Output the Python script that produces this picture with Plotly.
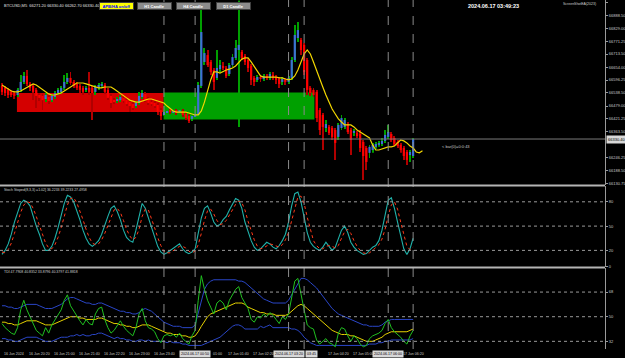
import plotly.graph_objects as go

# ---------------- data ----------------
bars = list(range(133))
open_ = [66570,66561,66552,66543,66538,66529,66552,66588,66615,66579,
         66570,66552,66529,66525,66511,66520,66506,66520,66538,66543,
         66561,66588,66606,66588,66579,66570,66561,66552,66561,66561,
         66543,66561,66570,66574,66552,66525,66506,66502,66506,66516,
         66506,66497,66488,66479,66493,66520,66534,66511,66497,66493,
         66484,66461,66443,66452,66457,66452,66457,66452,66457,66443,
         66434,66421,66430,66439,66570,66678,66709,66678,66642,66606,
         66646,66660,66651,66624,66664,66696,66732,66723,66705,66687,
         66660,66606,66597,66606,66601,66615,66606,66619,66610,66601,
         66588,66597,66588,66606,66687,66786,66777,66755,66687,66561,
         66552,66543,66461,66439,66380,66385,66380,66371,66340,66380,
         66385,66398,66371,66358,66358,66353,66317,66290,66268,66281,
         66295,66304,66308,66322,66340,66353,66335,66317,66304,66290,
         66272,66258,66254]
close = [66543,66538,66529,66529,66525,66552,66588,66615,66579,66561,
         66543,66525,66516,66506,66529,66502,66525,66538,66552,66561,
         66588,66606,66583,66570,66561,66552,66543,66561,66543,66538,
         66565,66574,66579,66543,66516,66493,66497,66511,66520,66502,
         66488,66479,66470,66493,66525,66538,66506,66493,66488,66479,
         66452,66434,66452,66457,66452,66457,66448,66461,66439,66425,
         66412,66434,66443,66574,66813,66718,66664,66633,66588,66651,
         66664,66651,66615,66664,66700,66741,66755,66696,66678,66651,
         66597,66588,66610,66601,66615,66606,66624,66610,66597,66579,
         66601,66588,66606,66687,66800,66822,66732,66633,66552,66538,
         66529,66425,66371,66385,66398,66358,66340,66313,66394,66425,
         66416,66362,66326,66367,66344,66290,66254,66227,66295,66304,
         66308,66313,66322,66349,66362,66326,66308,66299,66281,66254,
         66236,66272,66330.4]
high = [66583,66570,66561,66552,66547,66561,66619,66633,66642,66588,
        66579,66561,66538,66534,66538,66529,66534,66547,66561,66570,
        66619,66628,66633,66597,66588,66579,66570,66570,66633,66570,
        66574,66583,66588,66583,66561,66534,66516,66520,66529,66525,
        66516,66506,66497,66502,66543,66552,66543,66520,66506,66502,
        66493,66470,66461,66466,66466,66466,66466,66470,66466,66452,
        66443,66443,66452,66588,66921,66741,66732,66687,66651,66732,
        66687,66678,66660,66673,66714,66777,66955,66732,66714,66696,
        66669,66615,66619,66619,66624,66624,66633,66633,66619,66610,
        66610,66606,66615,66700,66845,66858,66786,66764,66696,66570,
        66561,66552,66470,66448,66416,66394,66389,66380,66403,66439,
        66425,66407,66380,66376,66367,66371,66326,66299,66304,66313,
        66317,66322,66335,66371,66394,66362,66344,66326,66313,66299,
        66281,66281,66335]
low = [66529,66525,66516,66520,66511,66520,66543,66579,66570,66547,
       66506,66470,66502,66461,66497,66488,66497,66511,66529,66534,
       66552,66579,66574,66561,66552,66538,66529,66543,66529,66416,
       66529,66552,66561,66534,66506,66470,66488,66493,66497,66493,
       66479,66452,66461,66470,66484,66511,66497,66484,66479,66470,
       66439,66416,66434,66443,66443,66448,66439,66443,66430,66416,
       66403,66412,66421,66430,66561,66664,66655,66619,66552,66597,
       66633,66642,66606,66615,66655,66687,66385,66687,66664,66633,
       66574,66570,66588,66588,66592,66597,66597,66597,66579,66561,
       66574,66574,66579,66597,66678,66768,66709,66619,66529,66525,
       66520,66407,66349,66281,66362,66349,66326,66236,66326,66371,
       66376,66353,66258,66344,66335,66272,66146,66191,66245,66268,
       66286,66295,66299,66313,66331,66317,66299,66290,66268,66236,
       66213,66227,66245]
ma_bars = list(range(136))
ma_line = [66574,66565,66556,66547,66543,66543,66547,66556,66565,66574,
           66579,66574,66565,66556,66543,66534,66529,66529,66534,66538,
           66547,66556,66565,66574,66583,66583,66583,66579,66574,66570,
           66565,66561,66561,66565,66565,66565,66556,66547,66538,66529,
           66516,66506,66502,66497,66497,66502,66506,66511,66511,66506,
           66502,66497,66493,66479,66466,66457,66452,66452,66452,66452,
           66448,66443,66439,66439,66457,66497,66552,66597,66633,66633,
           66628,66637,66642,66646,66651,66660,66678,66691,66696,66696,
           66678,66655,66633,66615,66610,66610,66610,66610,66610,66606,
           66606,66601,66597,66601,66615,66642,66678,66714,66732,66714,
           66678,66637,66597,66565,66529,66497,66466,66443,66421,66407,
           66394,66394,66394,66385,66371,66362,66353,66344,66335,66304,
           66281,66281,66286,66290,66295,66295,66299,66313,66326,66322,
           66313,66299,66290,66272,66268,66277]
last_price = 66330.40

# boxes (previous-period ranges)
box_start = [4.8, 51.9]
box_end = [51.9, 100.3]
box_top = [66538, 66540]
box_bottom = [66452, 66419]
box_colors = ["#d40000", "#00a000"]

vlines = [52, 62, 92, 97, 124, 132]

price_ticks = [66946.25, 66888.50, 66829.00, 66771.25, 66713.50, 66654.00,
               66596.25, 66538.50, 66479.00, 66421.25, 66363.50, 66246.25,
               66188.50, 66130.75]

stoch = [15,20,28,40,55,68,78,82,80,75,
         62,50,40,28,20,20,25,35,48,62,
         78,88,86,80,70,58,45,35,28,25,
         28,32,40,52,62,72,75,68,58,45,
         36,32,30,45,62,78,72,60,48,35,
         25,18,15,17,20,22,26,28,22,18,
         16,18,22,40,60,72,75,66,55,50,
         52,58,62,70,78,84,82,72,55,42,
         32,24,20,22,26,30,28,24,22,26,
         32,40,55,75,90,92,80,62,42,30,
         25,22,20,24,30,25,20,24,35,45,
         50,42,30,24,20,17,15,16,20,24,
         26,32,45,62,82,85,72,55,38,22,
         15,22,35]
stoch_signal = [18,17,21,29,41,54,67,76,80,79,
                72,62,51,39,29,23,22,27,36,48,
                63,76,84,85,79,69,58,46,36,29,
                27,28,33,41,51,62,70,72,67,57,
                46,38,33,36,46,62,71,70,60,48,
                36,26,19,17,17,20,23,25,25,23,
                19,17,19,27,41,57,69,71,65,57,
                52,53,57,63,70,77,81,79,70,56,
                43,33,25,22,23,26,28,27,25,24,
                27,33,42,57,73,86,87,78,61,45,
                32,26,22,22,25,26,25,23,26,35,
                43,46,41,32,25,20,17,16,17,20,
                23,27,34,46,63,76,80,71,55,38,
                25,21,24]
stoch_levels = [80, 50, 20]

tdi_rsi = [45,42,40,38,37,42,55,62,55,50,
           45,40,38,36,42,38,44,48,52,55,
           62,66,58,54,50,47,44,48,45,44,
           52,56,57,48,42,38,40,44,47,43,
           40,38,36,42,52,56,47,42,41,39,
           34,31,36,37,36,37,35,38,34,32,
           30,36,40,62,80,70,62,57,52,60,
           62,60,55,62,66,70,72,64,60,56,
           48,46,50,49,52,50,53,51,48,45,
           50,48,52,65,76,78,65,55,44,42,
           41,33,30,32,34,31,30,28,38,42,
           41,36,32,36,34,30,28,29,34,36,
           37,38,40,45,48,42,39,37,35,32,
           30,36,40]
tdi_base = [46,46,45,45,44,44,45,46,47,47,
            47,47,46,45,44,44,44,45,46,47,
            48,49,50,50,50,49,49,48,48,48,
            48,49,49,48,47,46,45,45,44,44,
            43,43,42,42,43,44,44,44,43,42,
            41,40,39,38,38,37,37,37,36,36,
            35,35,36,39,43,47,50,52,53,54,
            55,56,57,58,59,60,60,60,59,57,
            56,55,54,53,53,52,52,52,51,51,
            51,51,52,54,56,58,59,58,56,54,
            52,50,48,46,44,42,40,39,38,37,
            37,37,36,36,35,34,33,32,32,32,
            33,34,35,37,38,39,39,39,39,39,
            39,40,41]
tdi_upper = [58,58,57,57,56,56,57,58,59,59,
             59,59,58,57,56,56,56,57,58,59,
             61,63,64,64,63,62,61,60,60,59,
             59,60,60,59,58,57,56,55,54,54,
             53,53,52,52,53,55,56,55,54,52,
             50,48,46,45,44,43,43,43,42,42,
             42,42,44,52,62,70,74,76,77,77,
             77,77,77,77,77,77,76,76,75,73,
             71,69,67,65,63,62,61,60,60,60,
             60,60,62,66,71,75,78,78,77,75,
             73,71,68,65,62,59,56,54,52,51,
             50,49,48,47,46,45,44,44,43,43,
             43,43,44,46,47,48,48,48,48,48,
             48,48,48]
tdi_lower = [34,34,33,33,32,32,33,34,35,35,
             35,35,34,33,32,32,32,33,34,35,
             35,35,36,36,37,36,37,36,36,37,
             37,38,38,37,36,35,34,35,34,34,
             33,33,32,32,33,33,32,33,32,32,
             32,32,32,31,32,31,31,31,30,30,
             29,29,29,29,29,30,31,32,33,34,
             35,37,39,41,43,44,44,43,41,41,
             41,41,41,43,42,43,44,42,42,42,
             42,42,42,41,41,40,38,35,33,31,
             30,29,29,29,29,29,29,29,29,29,
             29,29,29,29,29,29,29,29,30,30,
             30,31,31,32,32,33,33,33,33,33,
             33,33,34]
tdi_levels = [68, 50, 32]

time_label_bars = [0, 8, 16, 24, 32, 40, 48, 72, 80, 104, 112, 128]
time_label_text = ["16 Jun 2024", "16 Jun 20:20", "16 Jun 21:00", "16 Jun 21:40",
                   "16 Jun 22:20", "16 Jun 23:00", "16 Jun 23:40",
                   "17 Jun 01:40", "17 Jun 02:20",
                   "17 Jun 04:20", "17 Jun 05:00", "17 Jun 06:20"]
partial_label_bar = [67.2]
partial_label_text = ["01:00"]
vline_label_bars = [62, 92, 124]
vline_label_text = ["2024.06.17 00:50", "2024.06.17 03:20", "2024.06.17 06:00"]
side_label_bar = [97.3]
side_label_text = ["03:45"]

# ---------------- figure ----------------
BLUE = "#3d6fd6"
RED = "#ff0000"
GRID = "#8a8a8a"
TXT = "#c8c8c8"
FONT = "Liberation Sans"

fig = go.Figure()

fig.add_trace(go.Bar(
    x=bars, y=[h - l for h, l in zip(high, low)], base=low, width=0.3,
    marker=dict(color=["#00a000" if c >= o else "#b00000" for o, c in zip(open_, close)],
                line=dict(width=0)),
    xaxis="x", yaxis="y", hoverinfo="skip", showlegend=False))
fig.add_trace(go.Bar(
    x=bars, y=[c - o for o, c in zip(open_, close)], base=open_, width=0.7,
    marker=dict(color=[BLUE if c >= o else RED for o, c in zip(open_, close)], line=dict(width=0)),
    xaxis="x", yaxis="y", hoverinfo="skip", showlegend=False))

fig.add_trace(go.Scatter(x=ma_bars, y=ma_line, mode="lines",
                         line=dict(color="#f2d600", width=1.2),
                         xaxis="x", yaxis="y", hoverinfo="skip", showlegend=False))

fig.add_trace(go.Scatter(x=bars, y=stoch, mode="lines",
                         line=dict(color="#20b2aa", width=1.1),
                         xaxis="x2", yaxis="y2", hoverinfo="skip", showlegend=False))
fig.add_trace(go.Scatter(x=bars, y=stoch_signal, mode="lines",
                         line=dict(color="#ff3a1a", width=1, dash="dot"),
                         xaxis="x2", yaxis="y2", hoverinfo="skip", showlegend=False))

for series, col, w in [(tdi_upper, "#2a46c8", 1), (tdi_lower, "#2a46c8", 1),
                       (tdi_base, "#e6d200", 1), (tdi_rsi, "#20c020", 1)]:
    fig.add_trace(go.Scatter(x=bars, y=series, mode="lines",
                             line=dict(color=col, width=w),
                             xaxis="x3", yaxis="y3", hoverinfo="skip", showlegend=False))

shapes = []
for x0, x1, t, b, c in zip(box_start, box_end, box_top, box_bottom, box_colors):
    shapes.append(dict(type="rect", xref="x", yref="y", x0=x0, x1=x1, y0=b, y1=t,
                       fillcolor=c, line=dict(width=0), layer="below"))
shapes.append(dict(type="line", xref="paper", yref="y", x0=0, x1=1, y0=last_price, y1=last_price,
                   line=dict(color="#7a7a7a", width=1)))
for v in vlines:
    shapes.append(dict(type="line", xref="x", yref="paper", x0=v, x1=v, y0=0, y1=1,
                       line=dict(color=GRID, width=1, dash="dash")))
for lv in stoch_levels:
    shapes.append(dict(type="line", xref="paper", yref="y2", x0=0, x1=1, y0=lv, y1=lv,
                       line=dict(color="#9a9a9a", width=1, dash="dot")))
for lv in tdi_levels:
    shapes.append(dict(type="line", xref="paper", yref="y3", x0=0, x1=1, y0=lv, y1=lv,
                       line=dict(color="#9a9a9a", width=1, dash="dot")))
for yp in [0.4685, 0.2335]:
    shapes.append(dict(type="line", xref="paper", yref="paper", x0=0, x1=1, y0=yp, y1=yp,
                       line=dict(color="#b4b4b4", width=2)))

annotations = []
for b, t in zip(time_label_bars + partial_label_bar, time_label_text + partial_label_text):
    annotations.append(dict(x=b, y=-0.013, xref="x", yref="paper", text=t, showarrow=False,
                            xanchor="left", yanchor="middle",
                            font=dict(family=FONT, size=3.6, color=TXT)))
for b, t in zip(vline_label_bars, vline_label_text):
    annotations.append(dict(x=b, y=-0.013, xref="x", yref="paper", text=t, showarrow=False,
                            xanchor="center", yanchor="middle", bgcolor="#d8d8d8",
                            font=dict(family=FONT, size=3.6, color="#000000")))
for b, t in zip(side_label_bar, side_label_text):
    annotations.append(dict(x=b, y=-0.013, xref="x", yref="paper", text=t, showarrow=False,
                            xanchor="left", yanchor="middle", bgcolor="#d8d8d8",
                            font=dict(family=FONT, size=3.6, color="#000000")))
annotations.append(dict(x=1.002, y=last_price, xref="paper", yref="y", text="66330.40",
                        showarrow=False, xanchor="left", yanchor="middle", bgcolor="#d8d8d8",
                        font=dict(family=FONT, size=4, color="#000000")))
annotations.append(dict(x=0.004, y=0.997, xref="paper", yref="paper",
                        text="BTCUSD,M5  66271.20 66330.40 66262.70 66330.40",
                        showarrow=False, xanchor="left", yanchor="top",
                        font=dict(family=FONT, size=4, color="#e0e0e0")))
annotations.append(dict(x=116.5 / 605.5, y=1 - 6.3 / 349, xref="paper", yref="paper",
                        text="<b>APB/HA on/off</b>", showarrow=False, xanchor="center",
                        yanchor="middle", bgcolor="#ffff00", bordercolor="#404040",
                        borderwidth=1, borderpad=0.5, width=32, height=5,
                        font=dict(family=FONT, size=4, color="#0000ff")))
for cx, t in [(155, "H1 Candle"), (194, "H4 Candle"), (233.4, "D1 Candle")]:
    annotations.append(dict(x=cx / 605.5, y=1 - 6 / 349, xref="paper", yref="paper",
                            text="<b>" + t + "</b>", showarrow=False, xanchor="center",
                            yanchor="middle", bgcolor="#8c8c8c", bordercolor="#404040",
                            borderwidth=1, borderpad=0.5, width=32, height=5,
                            font=dict(family=FONT, size=4, color="#ffffff")))
annotations.append(dict(x=494 / 605.5, y=1 - 6 / 349, xref="paper", yref="paper",
                        text="<b>2024.06.17 03:49:23</b>", showarrow=False, xanchor="center",
                        yanchor="middle", font=dict(family=FONT, size=5.5, color="#ffffff")))
annotations.append(dict(x=598 / 605.5, y=1 - 4 / 349, xref="paper", yref="paper",
                        text="ScreenShotEA(2023)", showarrow=False, xanchor="right",
                        yanchor="middle", font=dict(family=FONT, size=3.5, color="#d0d0d0")))
annotations.append(dict(x=140.5, y=66295, xref="x", yref="y", text="&lt; bar(0)=0:0:43",
                        showarrow=False, xanchor="left", yanchor="middle",
                        font=dict(family=FONT, size=4, color="#c8c8c8")))
annotations.append(dict(x=0.004, y=0.466, xref="paper", yref="paper",
                        text="Stoch Stoped(8,3,3) =1.02] 36.2233 39.2233 27.4958",
                        showarrow=False, xanchor="left", yanchor="top",
                        font=dict(family=FONT, size=3.5, color="#d0d0d0")))
annotations.append(dict(x=0.004, y=0.231, xref="paper", yref="paper",
                        text="TDI 47.7908 40.8352 33.8796 40.3797 41.8818",
                        showarrow=False, xanchor="left", yanchor="top",
                        font=dict(family=FONT, size=3.5, color="#d0d0d0")))

xcommon = dict(range=[-0.64, 193.6], showgrid=False, zeroline=False, showticklabels=False,
               showline=False, ticks="")
ycommon = dict(side="right", showgrid=False, zeroline=False, showline=True, linecolor="#9a9a9a",
               linewidth=1, ticks="outside", ticklen=2, tickcolor="#9a9a9a",
               tickfont=dict(family=FONT, size=4, color=TXT))

fig.update_layout(
    width=625, height=358,
    margin=dict(l=0, r=20, t=0, b=9),
    paper_bgcolor="#000000", plot_bgcolor="#000000",
    showlegend=False, barmode="overlay",
    xaxis=dict(domain=[0, 1], anchor="y", **xcommon),
    xaxis2=dict(domain=[0, 1], anchor="y2", matches="x", **xcommon),
    xaxis3=dict(domain=[0, 1], anchor="y3", matches="x", **xcommon),
    yaxis=dict(domain=[0.4699, 1], range=[66123, 66957.5], anchor="x",
               tickvals=price_ticks, ticktext=["%.2f" % v for v in price_ticks], **ycommon),
    yaxis2=dict(domain=[0.235, 0.467], range=[-0.5, 99.5], anchor="x2",
                tickvals=[100, 80, 50, 20, 0], ticktext=["100", "80", "50", "20", "0"], **ycommon),
    yaxis3=dict(domain=[0, 0.2321], range=[26.3971, 85.6], anchor="x3",
                tickvals=[68, 50, 32], ticktext=["68", "50", "32"], **ycommon),
    shapes=shapes, annotations=annotations,
)

fig.write_html("out.html")
